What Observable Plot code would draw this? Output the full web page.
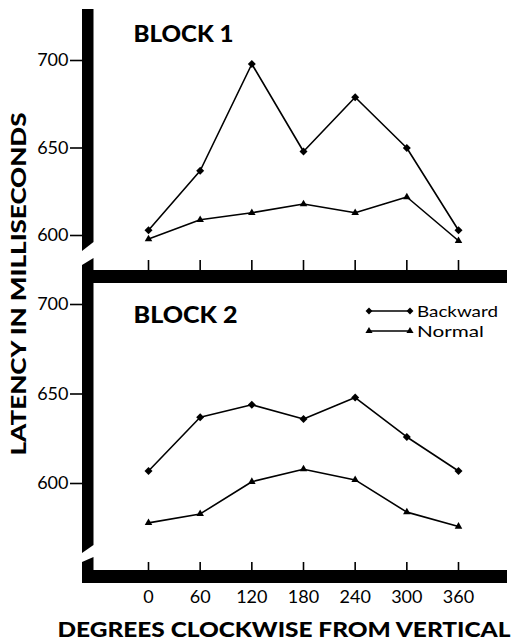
<!DOCTYPE html>
<html>
<head>
<meta charset="utf-8">
<script src="https://cdn.jsdelivr.net/npm/d3@7"></script>
<script src="https://cdn.jsdelivr.net/npm/@observablehq/plot@0.6"></script>
<style>
  body { margin: 0; background: #fff; }
  #chart { position: relative; width: 516px; height: 640px; overflow: hidden; background: #fff; }
  #chart svg { position: absolute; left: 0; top: 0; }
</style>
</head>
<body>
<div id="chart"></div>
<script>
// ---- data ----
const degrees = [0, 60, 120, 180, 240, 300, 360];
const xTickValues = [0, 60, 120, 180, 240, 300, 360];
const yTickValues = [600, 650, 700];
const blockTitles = ["BLOCK 1", "BLOCK 2"];
const seriesNames = ["Backward", "Normal"];
const block1Backward = [603, 637, 698, 648, 679, 650, 603];
const block1Normal   = [598, 609, 613, 618, 613, 622, 597];
const block2Backward = [607, 637, 644, 636, 648, 626, 607];
const block2Normal   = [578, 583, 601, 608, 602, 584, 576];
const yTitle = "LATENCY IN MILLISECONDS";
const xTitle = "DEGREES CLOCKWISE FROM VERTICAL";

const FONT = "Lato, 'Open Sans', sans-serif";
const W = 516, H = 640;

function rows(values, series) {
  return degrees.map((d, i) => ({deg: d, ms: values[i], series}));
}

function block({title, backward, normal, yRange, marginTop, frameBottom, tickSize, showLabels, titleDy, extra = []}) {
  const back = rows(backward, seriesNames[0]);
  const norm = rows(normal, seriesNames[1]);
  return Plot.plot({
    width: W, height: H,
    marginLeft: 82, marginRight: 9, marginTop, marginBottom: H - frameBottom,
    style: {background: "transparent", fontFamily: FONT, color: "#000", overflow: "visible"},
    x: {domain: [0, 360], range: [148, 458], label: null},
    y: {domain: [600, 700], range: yRange, label: null},
    marks: [
      Plot.axisY({ticks: yTickValues, tickSize: 12, tickPadding: 2, fontSize: 18, strokeWidth: 1.6, label: null}),
      Plot.axisX({ticks: xTickValues, tickSize, tickPadding: 20, fontSize: 18, strokeWidth: 1.6, label: null,
                  tickFormat: showLabels ? (d => String(d)) : (() => "")}),
      Plot.line([...back, ...norm], {x: "deg", y: "ms", z: "series", stroke: "#000", strokeWidth: 1.6}),
      Plot.dot(back, {x: "deg", y: "ms", symbol: "diamond2", r: 3.6, fill: "#000", stroke: "none"}),
      Plot.dot(norm, {x: "deg", y: "ms", symbol: "triangle", r: 2.8, fill: "#000", stroke: "none"}),
      Plot.text([title], {frameAnchor: "top-left", textAnchor: "start", lineAnchor: "bottom",
                          dx: 51, dy: titleDy, fontSize: 22, fontWeight: 900, fill: "#000"}),
      ...extra
    ]
  });
}

const svg1 = block({
  title: blockTitles[0], backward: block1Backward, normal: block1Normal,
  yRange: [235, 60], marginTop: 10, frameBottom: 260, tickSize: 10, showLabels: false, titleDy: 31.7
});

const svg2 = block({
  title: blockTitles[1], backward: block2Backward, normal: block2Normal,
  yRange: [483, 304], marginTop: 257, frameBottom: 562, tickSize: 8, showLabels: true, titleDy: 65.7,
  extra: [
    Plot.text([xTitle], {frameAnchor: "bottom-left", textAnchor: "start", lineAnchor: "bottom",
                         dx: -25, dy: 74, fontSize: 21.5, fontWeight: 900, fill: "#000"}),
    Plot.text([yTitle], {frameAnchor: "top-left", textAnchor: "middle", lineAnchor: "bottom", rotate: -90,
                         dx: -57, dy: 26.5, fontSize: 21, fontWeight: 900, fill: "#000"})
  ]
});

const chart = document.getElementById("chart");
chart.appendChild(svg1);
chart.appendChild(svg2);

// stretch the heavy titles to the widths they occupy in the reference
function fit(svg, text, len) {
  d3.select(svg).selectAll("text").filter(function() { return this.textContent === text; })
    .attr("textLength", len).attr("lengthAdjust", "spacingAndGlyphs");
}
fit(svg1, blockTitles[0], 100);
fit(svg2, blockTitles[1], 104);
fit(svg2, xTitle, 453);
fit(svg2, yTitle, 343);

// heavy axis bars with break marks (drawn under everything)
const deco = d3.select(svg1).insert("g", ":first-child").attr("fill", "#000");
const pieces = [
  [[82, 9], [93.5, 9], [93.5, 242], [82, 251]],
  [[82, 265], [93.5, 258], [93.5, 545], [82, 553]],
  [[82, 562], [93.5, 557], [93.5, 583], [82, 583]]
];
pieces.forEach(p => deco.append("polygon").attr("points", p.map(q => q.join(",")).join(" ")));
deco.append("rect").attr("x", 82).attr("y", 270).attr("width", 425).attr("height", 13);
deco.append("rect").attr("x", 82).attr("y", 570).attr("width", 425).attr("height", 13);

// legend
const leg = d3.select(svg2).append("g").attr("text-anchor", "start");
const legendRows = [
  {name: seriesNames[0], y: 311, sym: d3.symbolDiamond2, size: 30, len: 81},
  {name: seriesNames[1], y: 331, sym: d3.symbolTriangle, size: 22, len: 67}
];
legendRows.forEach(r => {
  leg.append("line").attr("x1", 369).attr("x2", 410).attr("y1", r.y).attr("y2", r.y)
     .attr("stroke", "#000").attr("stroke-width", 1.3);
  [369, 410].forEach(x => leg.append("path").attr("d", d3.symbol(r.sym, r.size)())
     .attr("transform", `translate(${x},${r.y})`).attr("fill", "#000"));
  leg.append("text").attr("x", 417).attr("y", r.y + 5.5).attr("font-size", 16)
     .attr("text-anchor", "start").attr("font-family", FONT).attr("fill", "#000")
     .attr("textLength", r.len).attr("lengthAdjust", "spacingAndGlyphs").text(r.name);
});
</script>
</body>
</html>
